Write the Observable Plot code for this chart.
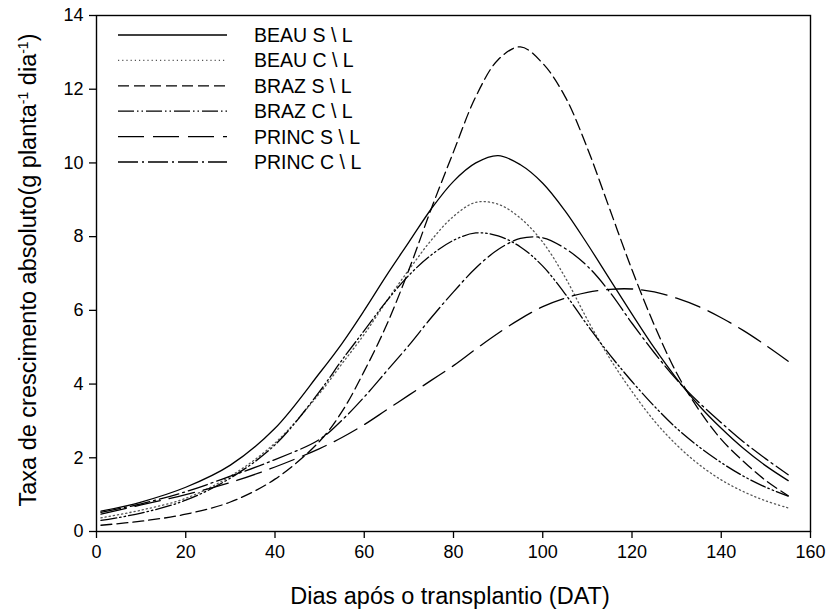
<!DOCTYPE html>
<html><head><meta charset="utf-8">
<script src="https://cdn.jsdelivr.net/npm/d3@7"></script>
<script src="https://cdn.jsdelivr.net/npm/@observablehq/plot@0.6"></script>
<style>
body{margin:0;background:#fff;}
#chart{position:relative;width:829px;height:611px;}
</style>
</head><body><div id="chart"></div>
<script>
// Days after transplanting (x values shared by every curve)
const days = [1,10,20,30,40,50,55,60,65,70,75,80,85,90,95,100,105,110,115,120,125,130,135,140,145,150,155];

// Absolute growth rate curves
const beauSL  = [0.55,0.8,1.2,1.8,2.8,4.3,5.1,6.0,6.95,7.85,8.75,9.5,10.0,10.2,9.95,9.45,8.7,7.8,6.85,5.9,4.98,4.15,3.42,2.8,2.25,1.78,1.38];
const beauCL  = [0.37,0.58,0.9,1.5,2.4,3.75,4.55,5.35,6.25,7.1,7.9,8.55,8.93,8.88,8.5,7.85,6.9,5.75,4.7,3.8,3.0,2.35,1.82,1.4,1.08,0.83,0.64];
const brazSL  = [0.17,0.28,0.47,0.8,1.42,2.45,3.25,4.35,5.6,7.1,8.75,10.3,11.8,12.8,13.15,12.7,11.8,10.4,8.75,7.1,5.6,4.3,3.3,2.5,1.9,1.38,0.97];
const brazCL  = [0.3,0.5,0.85,1.45,2.35,3.8,4.65,5.45,6.25,6.95,7.5,7.9,8.1,8.02,7.72,7.2,6.45,5.6,4.8,4.07,3.4,2.8,2.3,1.87,1.5,1.2,0.96];
const princSL = [0.47,0.72,1.0,1.33,1.75,2.25,2.55,2.9,3.3,3.7,4.1,4.5,4.95,5.38,5.77,6.1,6.33,6.49,6.57,6.58,6.5,6.33,6.1,5.8,5.45,5.05,4.62];
const princCL = [0.52,0.75,1.08,1.5,1.95,2.5,3.02,3.65,4.35,5.05,5.8,6.5,7.15,7.65,7.95,7.97,7.68,7.2,6.5,5.65,4.85,4.12,3.5,2.95,2.43,1.97,1.54];

const seriesNames = ["BEAU S \\ L","BEAU C \\ L","BRAZ S \\ L","BRAZ C \\ L","PRINC S \\ L","PRINC C \\ L"];
const seriesValues = [beauSL, beauCL, brazSL, brazCL, princSL, princCL];

const xTicks = [0,20,40,60,80,100,120,140,160];
const yTicks = [0,2,4,6,8,10,12,14];

const xTitle = "Dias após o transplantio (DAT)";
const yTitleParts = ["Taxa de crescimento absoluto(g planta", "-1", " dia", "-1", ")"];

// styles
const dashes  = [null, "1.2,3", "11,5", "16,3,1.5,3,1.5,3", "26,9", "20,4,2,4"];
const strokes = ["#000", "#555", "#000", "#000", "#000", "#000"];

const rows = seriesValues.flatMap((vals, s) => vals.map((v, i) => ({s, x: days[i], y: v})));

const FONT = "'Liberation Sans', Arial, Helvetica, sans-serif";

const plot = Plot.plot({
  width: 829,
  height: 611,
  marginLeft: 96,
  marginRight: 19,
  marginTop: 15,
  marginBottom: 80,
  style: {fontFamily: FONT, fontSize: "18px", color: "#000", background: "#fff"},
  x: {domain: [0, 160]},
  y: {domain: [0, 14]},
  marks: [
    Plot.axisX({ticks: xTicks, tickSize: 7, tickPadding: 7, label: null, fontSize: 18, strokeWidth: 1.3}),
    Plot.axisY({ticks: yTicks, tickSize: 7, tickPadding: 6, label: null, fontSize: 18, strokeWidth: 1.3}),
    ...seriesValues.map((_, s) => Plot.line(rows.filter(r => r.s === s), {
      x: "x", y: "y", curve: "catmull-rom",
      stroke: strokes[s], strokeWidth: 1.3,
      strokeDasharray: dashes[s]
    })),
    Plot.frame({stroke: "#000", strokeWidth: 1.4})
  ]
});

const svg = d3.select(plot);

// axis titles
svg.append("text")
  .attr("x", 450).attr("y", 604)
  .attr("text-anchor", "middle")
  .attr("font-family", FONT).attr("font-size", 23.5).attr("fill", "#000")
  .text(xTitle);

const yt = svg.append("text")
  .attr("transform", "translate(36,270) rotate(-90)")
  .attr("text-anchor", "middle")
  .attr("font-family", FONT).attr("font-size", 23.5).attr("fill", "#000");
yTitleParts.forEach((p, i) => {
  const t = yt.append("tspan").text(p);
  if (i % 2 === 1) t.attr("baseline-shift", "super").attr("font-size", 14);
});

// legend
const lg = svg.append("g").attr("font-family", FONT).attr("font-size", 19.5).attr("text-anchor", "start");
seriesNames.forEach((name, i) => {
  const yy = 35 + i * 25.4;
  lg.append("line").attr("x1", 118).attr("x2", 227).attr("y1", yy).attr("y2", yy)
    .attr("stroke", strokes[i]).attr("stroke-width", 1.3)
    .attr("stroke-dasharray", dashes[i]);
  lg.append("text").attr("x", 254).attr("y", yy).attr("dy", "0.36em")
    .attr("text-anchor", "start").attr("fill", "#000").text(name);
});

document.getElementById("chart").appendChild(plot);
</script>
</body></html>
